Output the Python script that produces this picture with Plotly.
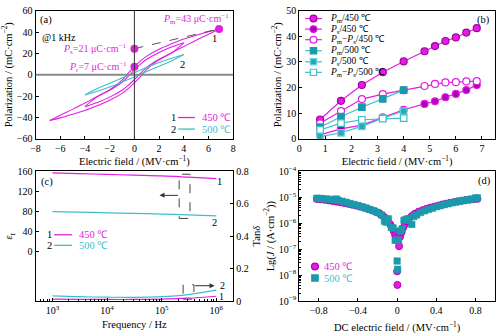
import plotly.graph_objects as go

# ---------------- data ----------------
# (a) P-E loops
E_out_up = [6.85, 6, 5, 4, 3, 2, 1, 0.5, 0, -0.5, -1, -1.5, -2, -3, -4, -5, -6, -6.85]
P_out_up = [43, 40.5, 37, 33.5, 29, 24, 17.5, 13, 7.5, 1.5, -5, -10, -14, -20.5, -26.5, -32.5, -38, -43]
E_out_lo = [-6.85, -6, -5, -4, -3, -2, -1, -0.5, 0, 0.5, 1, 1.5, 2, 3, 4, 5, 6, 6.85]
P_out_lo = [-43, -40.5, -37, -33.5, -29, -24, -17.5, -13, -7.5, -1.5, 5, 10, 14, 20.5, 26.5, 32.5, 38, 43]
E_in_up = [4, 3, 2, 1, 0.5, 0, -0.5, -1, -1.5, -2, -3, -4]
P_in_up = [30, 26, 21, 14.5, 10, 4.5, -1.5, -7, -11, -14.5, -20.5, -30]
E_in_lo = [-4, -3, -2, -1, -0.5, 0, 0.5, 1, 1.5, 2, 3, 4]
P_in_lo = [-30, -26, -21, -14.5, -10, -4.5, 1.5, 7, 11, 14.5, 20.5, 30]
E_c_up = [4, 3, 2, 1, 0.5, 0, -0.5, -1, -2, -3, -4]
P_c_up = [19, 15.5, 11.5, 7, 4.5, 2, -0.5, -3, -8, -13, -19]
E_c_lo = [-4, -3, -2, -1, -0.5, 0, 0.5, 1, 2, 3, 4]
P_c_lo = [-19, -15.5, -11.5, -7, -4.5, -2, 0.5, 3, 8, 13, 19]
E_key = [0, 0, 6.85]
P_key = [24.5, 7.5, 43]

# (b) polarization vs field
E450 = [0.8, 1.6, 2.4, 3.2, 4.0, 4.8, 5.2, 5.6, 6.0, 6.4, 6.8]
Pm450 = [7.5, 14.8, 21, 26, 30.2, 34.2, 36.2, 38.2, 39.6, 41.5, 43.2]
Ps450 = [1.5, 3.8, 5.3, 8.3, 11.3, 13.6, 14.6, 16.2, 17.5, 19, 21]
Pd450 = [6, 10.8, 15.5, 17.4, 18.9, 20.6, 21.4, 22, 22.1, 22.4, 22.5]
E500 = [0.8, 1.6, 2.4, 3.2, 4.0]
Pm500 = [4.5, 8.6, 12.3, 15.6, 19]
Ps500 = [0.8, 2.3, 4.8, 8.0, 10.8]
Pd500 = [3.4, 6.1, 7.4, 7.8, 8.0]

# (c) dielectric vs frequency
freq = [1e3, 3e3, 1e4, 3e4, 1e5, 3e5, 1e6]
er450 = [157, 155.5, 154, 152.5, 151, 148.5, 145.5]
er500 = [80, 79, 77.5, 76.5, 75, 73.5, 71.5]
tan450 = [0.012, 0.011, 0.010, 0.010, 0.012, 0.018, 0.030]
tan500 = [0.032, 0.027, 0.024, 0.023, 0.027, 0.040, 0.068]

# (d) leakage current
xJ450 = [-0.82, -0.78, -0.74, -0.70, -0.66, -0.62, -0.58, -0.54, -0.50, -0.46, -0.42, -0.38, -0.34,
         -0.30, -0.26, -0.22, -0.18, -0.15, -0.12, -0.09, -0.07, -0.05, -0.035, -0.02, -0.01,
         0.0, 0.003, 0.02, 0.03, 0.045, 0.06, 0.08, 0.10, 0.12, 0.15, 0.18,
         0.22, 0.26, 0.30, 0.34, 0.38, 0.42, 0.46, 0.50, 0.54, 0.58, 0.62, 0.66, 0.70, 0.74, 0.78, 0.82]
J450 = [8.6e-6, 8.3e-6, 8.0e-6, 7.6e-6, 7.2e-6, 6.8e-6, 6.4e-6, 6.0e-6, 5.6e-6, 5.2e-6, 4.8e-6, 4.4e-6, 4.0e-6,
        3.6e-6, 3.2e-6, 2.8e-6, 2.4e-6, 2.0e-6, 1.6e-6, 1.2e-6, 9e-7, 7e-7, 5e-7, 3.5e-7, 2.8e-7,
        1.4e-8, 4.2e-9, 1.3e-7, 3.0e-7, 4.5e-7, 6.5e-7, 9e-7, 1.2e-6, 1.5e-6, 1.9e-6, 2.3e-6,
        2.8e-6, 3.2e-6, 3.6e-6, 4.0e-6, 4.4e-6, 4.8e-6, 5.3e-6, 5.7e-6, 6.1e-6, 6.5e-6, 7.0e-6, 7.4e-6, 7.8e-6, 8.1e-6, 8.4e-6, 8.7e-6]
xJ500 = [-0.82, -0.79, -0.76, -0.72, -0.68, -0.64, -0.62, -0.60, -0.56, -0.52, -0.48, -0.44, -0.40, -0.36,
         -0.32, -0.28, -0.24, -0.20, -0.16, -0.13, -0.11, -0.09, -0.06, -0.04, -0.02, -0.005,
         0.0, 0.005, 0.015, 0.03, 0.05, 0.07, 0.09, 0.11, 0.15, 0.17, 0.20,
         0.24, 0.28, 0.32, 0.36, 0.40, 0.44, 0.48, 0.52, 0.56, 0.60, 0.64, 0.68, 0.72, 0.76, 0.80, 0.82]
J500 = [9.2e-6, 9.0e-6, 8.8e-6, 8.6e-6, 8.3e-6, 8.0e-6, 8.6e-6, 7.6e-6, 7.0e-6, 6.4e-6, 5.8e-6, 5.3e-6, 4.8e-6, 4.3e-6,
        3.9e-6, 3.4e-6, 3.0e-6, 2.6e-6, 2.1e-6, 1.2e-6, 1.1e-6, 1.5e-6, 7e-7, 6.5e-7, 2.2e-7, 2.2e-7,
        3.5e-8, 1.7e-8, 2.2e-7, 5.0e-7, 6e-7, 1.3e-6, 1.4e-6, 1.5e-6, 9e-7, 1.8e-6, 2.1e-6,
        2.6e-6, 3.0e-6, 3.4e-6, 3.8e-6, 4.3e-6, 4.7e-6, 5.2e-6, 5.6e-6, 6.1e-6, 6.6e-6, 7.0e-6, 7.5e-6, 8.0e-6, 8.5e-6, 9.3e-6, 9.5e-6]

# ---------------- style ----------------
MAG = "#e21ee2"
CYN = "#3cbfcc"
TEAL = "#1a9aac"
FONT = "Liberation Serif, Times New Roman, serif"
W, H = 500, 334


def px(x):
    return x / W


def py(y):
    return 1 - y / H


fig = go.Figure()

# (a)
for ex, pp, col in [(E_out_up, P_out_up, MAG), (E_out_lo, P_out_lo, MAG),
                    (E_in_up, P_in_up, MAG), (E_in_lo, P_in_lo, MAG),
                    (E_c_up, P_c_up, CYN), (E_c_lo, P_c_lo, CYN)]:
    fig.add_trace(go.Scatter(x=ex, y=pp, mode="lines", line=dict(color=col, width=1.1, shape="spline"),
                             showlegend=False, xaxis="x", yaxis="y"))
fig.add_trace(go.Scatter(x=[E_key[0], E_key[2]], y=[P_key[0], P_key[2]], mode="lines",
                         line=dict(color="#555", width=1, dash="dash"), showlegend=False, xaxis="x", yaxis="y"))
fig.add_trace(go.Scatter(x=E_key, y=P_key, mode="markers", marker=dict(color=MAG, size=8),
                         showlegend=False, xaxis="x", yaxis="y"))

# (b)
b_series = [
    (E450, Pm450, "<i>P</i><sub>m</sub>/450 ℃", MAG, "circle", MAG, "#a000a0"),
    (E450, Ps450, "<i>P</i><sub>s</sub>/450 ℃", MAG, "circle", "#b000b8", MAG),
    (E450, Pd450, "<i>P</i><sub>m</sub>−<i>P</i><sub>s</sub>/450 ℃", MAG, "circle", "white", MAG),
    (E500, Pm500, "<i>P</i><sub>m</sub>/500 ℃", CYN, "square", TEAL, TEAL),
    (E500, Ps500, "<i>P</i><sub>s</sub>/500 ℃", CYN, "square", "#2aa8b8", "#6ad4de"),
    (E500, Pd500, "<i>P</i><sub>m</sub>−<i>P</i><sub>s</sub>/500 ℃", CYN, "square", "white", CYN),
]
for ex, pp, nm, lc, sym, fc, mc in b_series:
    fig.add_trace(go.Scatter(x=ex, y=pp, name=nm, mode="lines+markers", line=dict(color=lc, width=1.2),
                             marker=dict(symbol=sym, size=7 if sym == "circle" else 6.5, color=fc,
                                         line=dict(color=mc, width=1.2)),
                             showlegend=False, xaxis="x2", yaxis="y2"))

# (c)
fig.add_trace(go.Scatter(x=freq, y=er450, mode="lines", line=dict(color=MAG, width=1.2, shape="spline"),
                         showlegend=False, xaxis="x3", yaxis="y3"))
fig.add_trace(go.Scatter(x=freq, y=er500, mode="lines", line=dict(color=CYN, width=1.2, shape="spline"),
                         showlegend=False, xaxis="x3", yaxis="y3"))
fig.add_trace(go.Scatter(x=freq, y=tan450, mode="lines", line=dict(color=MAG, width=1.2, shape="spline"),
                         showlegend=False, xaxis="x3", yaxis="y5"))
fig.add_trace(go.Scatter(x=freq, y=tan500, mode="lines", line=dict(color=CYN, width=1.2, shape="spline"),
                         showlegend=False, xaxis="x3", yaxis="y5"))

# (d)
fig.add_trace(go.Scatter(x=xJ450, y=J450, mode="markers",
                         marker=dict(symbol="circle", size=7, color=MAG, line=dict(color="#b000b0", width=1)),
                         showlegend=False, xaxis="x4", yaxis="y4"))
fig.add_trace(go.Scatter(x=xJ500, y=J500, mode="markers",
                         marker=dict(symbol="square", size=6.5, color=TEAL, line=dict(color=TEAL, width=0.5)),
                         showlegend=False, xaxis="x4", yaxis="y4"))

tf = dict(family=FONT, size=10, color="black")
ttl = dict(family=FONT, size=10.5, color="black")
base = dict(showline=True, linecolor="black", linewidth=1, mirror=True, ticks="inside", ticklen=3,
            tickcolor="black", showgrid=False, zeroline=False, tickfont=tf)

dom_ax = [0.062, 0.464]
dom_bx = [0.598, 0.996]
dom_top = [py(137), py(4)]
dom_bot = [py(306), py(171)]

fig.update_layout(
    width=W, height=H, margin=dict(l=0, r=0, t=0, b=0), showlegend=False,
    paper_bgcolor="white", plot_bgcolor="white", font=dict(family=FONT, size=10, color="black"),
    xaxis=dict(base, domain=dom_ax, range=[-8, 8], dtick=2, anchor="y",
               title=dict(text="Electric field / (MV·cm<sup>−1</sup>)", font=ttl, standoff=4)),
    yaxis=dict(base, domain=dom_top, range=[-60, 60], dtick=20, anchor="x",
               title=dict(text="Polarization / (mC·cm<sup>−2</sup>)", font=ttl, standoff=2)),
    xaxis2=dict(base, domain=dom_bx, range=[0, 7.5], dtick=1, anchor="y2",
                title=dict(text="Electric field / (MV·cm<sup>−1</sup>)", font=ttl, standoff=4)),
    yaxis2=dict(base, domain=dom_top, range=[0, 50], dtick=10, anchor="x2",
                title=dict(text="Polarization / (mC·cm<sup>−2</sup>)", font=ttl, standoff=2)),
    xaxis3=dict(base, domain=dom_ax, type="log", range=[2.69, 6.31], anchor="y3",
                tickvals=[1e3, 1e4, 1e5, 1e6],
                ticktext=["10<sup>3</sup>", "10<sup>4</sup>", "10<sup>5</sup>", "10<sup>6</sup>"],
                minor=dict(ticks="inside", ticklen=2, tickcolor="black",
                           tickvals=[k * 10 ** n for n in range(2, 7) for k in range(2, 10)]),
                title=dict(text="Frequency / Hz", font=ttl, standoff=5)),
    yaxis3=dict(base, domain=dom_bot, range=[-98, 160], tickvals=[0, 40, 80, 120, 160], anchor="x3",
                mirror=False, title=dict(text="<i>ε</i><sub>r</sub>", font=ttl, standoff=2)),
    yaxis5=dict(base, overlaying="y3", side="right", anchor="x3", range=[0, 0.8], dtick=0.2, mirror=False,
                title=dict(text="Tan<i>δ</i>", font=ttl, standoff=4)),
    xaxis4=dict(base, domain=dom_bx, range=[-1, 1], anchor="y4", tickvals=[-0.8, -0.4, 0, 0.4, 0.8],
                ticktext=["−0.8", "−0.4", "0", "0.4", "0.8"],
                title=dict(text="DC electric field / (MV·cm<sup>−1</sup>)", font=ttl, standoff=9)),
    yaxis4=dict(base, domain=dom_bot, type="log", range=[-9, -4], anchor="x4",
                tickvals=[1e-9, 1e-8, 1e-7, 1e-6, 1e-5, 1e-4],
                ticktext=["10<sup>−9</sup>", "10<sup>−8</sup>", "10<sup>−7</sup>", "10<sup>−6</sup>",
                          "10<sup>−5</sup>", "10<sup>−4</sup>"],
                minor=dict(ticks="inside", ticklen=2, tickcolor="black",
                           tickvals=[k * 10.0 ** n for n in range(-9, -4) for k in range(2, 10)]),
                title=dict(text="Lg(<i>J</i> / (A·cm<sup>−2</sup>))", font=ttl, standoff=2)),
)

shapes = []
annots = []


def hline(x0, x1, y, color, width=1.2, dash="solid"):
    shapes.append(dict(type="line", xref="paper", yref="paper", x0=px(x0), x1=px(x1), y0=py(y), y1=py(y),
                       line=dict(color=color, width=width, dash=dash)))


def key_marker(cx, cy, sym, fill, edge, size):
    r = size / 2
    shapes.append(dict(type="circle" if sym == "circle" else "rect", xref="paper", yref="paper",
                       x0=px(cx - r), x1=px(cx + r), y0=py(cy + r), y1=py(cy - r),
                       fillcolor=fill, line=dict(color=edge, width=1.2)))


def txt(x, y, s, color="black", anchor="center", size=10.5):
    annots.append(dict(x=px(x), y=py(y), xref="paper", yref="paper", text=s, showarrow=False,
                       xanchor=anchor, yanchor="middle", font=dict(family=FONT, size=size, color=color)))


# (a) zero lines
shapes.append(dict(type="line", xref="x", yref="y", x0=-8, x1=8, y0=0, y1=0, line=dict(color="#8a8a8a", width=2)))
shapes.append(dict(type="line", xref="x", yref="y", x0=0, x1=0, y0=-60, y1=60, line=dict(color="#333", width=1)))
# (a) legend
hline(176, 193, 115, MAG, 1.3)
hline(176, 193, 127, CYN, 1.3)
# (b) legend
rows_b = [12, 23, 34, 45.5, 57, 68]
for (ex, pp, nm, lc, sym, fc, mc), ry in zip(b_series, rows_b):
    hline(305, 322, ry, lc, 1.2)
    key_marker(313.5, ry, sym, fc, mc, 7 if sym == "circle" else 6.5)
    txt(328, ry, nm, "black", "left", 9.5)
# (c) legend
hline(50, 68, 237, MAG, 1.3)
hline(50, 68, 248, CYN, 1.3)
# (c) dashed boxes
shapes.append(dict(type="rect", xref="paper", yref="paper", x0=px(177), x1=px(188), y0=py(220), y1=py(174),
                   line=dict(color="#444", width=1, dash="dash")))
shapes.append(dict(type="rect", xref="paper", yref="paper", x0=px(181), x1=px(192), y0=py(304), y1=py(289),
                   line=dict(color="#444", width=1, dash="dash")))
# (d) legend
key_marker(315, 270, "circle", MAG, "#b000b0", 7)
key_marker(315, 282, "square", TEAL, TEAL, 6.5)
txt(322, 270, "450 ℃", MAG, "left")
txt(322, 282, "500 ℃", CYN, "left")

txt(34, 14, "(a)", anchor="left")
txt(36, 32, "@1 kHz", anchor="left", size=10)
txt(230, 13, "<i>P</i><sub>m</sub>=43 μC·cm<sup>−1</sup>", MAG, "right", 10)
txt(126, 44, "<i>P</i><sub>s</sub>=21 μC·cm<sup>−1</sup>", MAG, "right", 10)
txt(126, 62, "<i>P</i><sub>r</sub>=7 μC·cm<sup>−1</sup>", MAG, "right", 10)
txt(213, 33, "1")
txt(180, 60, "2")
txt(171, 115, "1")
txt(171, 127, "2")
txt(198, 115, "450 ℃", MAG, "left")
txt(198, 127, "500 ℃", CYN, "left")
txt(495, 14, "(b)", anchor="right")
txt(35, 182, "(c)", anchor="left")
txt(45, 237, "1")
txt(45, 248, "2")
txt(73, 237, "450 ℃", MAG, "left")
txt(73, 248, "500 ℃", CYN, "left")
txt(218, 182, "1")
txt(213, 224, "2")
txt(221, 290, "2", size=10)
txt(220, 301, "1", size=10)
txt(496, 181, "(d)", anchor="right")
# arrows in (c)
annots.append(dict(x=px(157), y=py(196), xref="paper", yref="paper", ax=20, ay=0, text="", showarrow=True,
                   arrowhead=2, arrowsize=1, arrowwidth=1, arrowcolor="#333"))
annots.append(dict(x=px(213), y=py(290), xref="paper", yref="paper", ax=-21, ay=0, text="", showarrow=True,
                   arrowhead=2, arrowsize=1, arrowwidth=1, arrowcolor="#333"))

fig.update_layout(shapes=shapes, annotations=annots)

fig.write_html("out.html")
